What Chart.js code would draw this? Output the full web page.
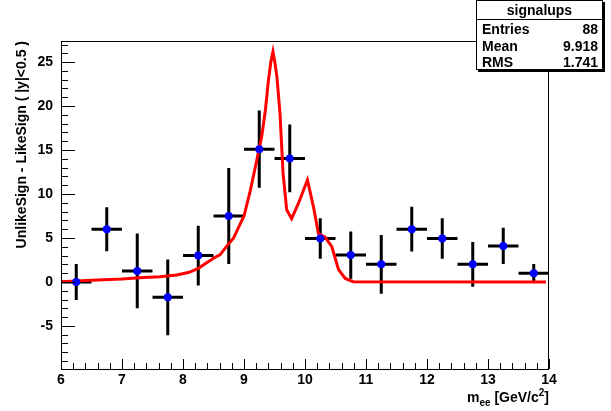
<!DOCTYPE html>
<html>
<head>
<meta charset="utf-8">
<script src="https://cdn.jsdelivr.net/npm/chart.js@4/dist/chart.umd.min.js"></script>
<style>
  html, body { margin: 0; padding: 0; background: #ffffff; }
  #wrap { position: relative; width: 611px; height: 411px; overflow: hidden; }
  #c { position: absolute; left: 0; top: 0; }
  #stats {
    position: absolute; left: 476px; top: 0px; width: 125px; height: 68px;
    border: 1px solid #000; background: #ffffff; box-shadow: 2px 2px 0 #000;
    font: bold 14px "Liberation Sans", Arial, sans-serif; color: #000;
  }
  #stats .ttl { position: absolute; left: 0; right: 0; top: 0; height: 18px; line-height: 18px;
    text-align: center; border-bottom: 1px solid #000; }
  #stats .row { position: absolute; left: 5px; right: 4px; height: 16px; line-height: 16px; }
  #stats .row .v { position: absolute; right: 0; top: 0; }
  #xtitle {
    position: absolute; right: 62px; top: 389px; line-height: 14px; white-space: nowrap;
    font: bold 14px "Liberation Sans", Arial, sans-serif; color: #000;
  }
  #xtitle .sub { font-size: 10px; position: relative; top: 4px; }
  #xtitle .sup { font-size: 10px; position: relative; top: -6px; }
</style>
</head>
<body>
<div id="wrap">
  <canvas id="c" width="611" height="411"></canvas>
  <div id="xtitle">m<span class="sub">ee</span> [GeV/c<span class="sup">2</span>]</div>
  <div id="stats"></div>
</div>
<script>
// ---- data ----
const binCenters = [6.25, 6.75, 7.25, 7.75, 8.25, 8.75, 9.25, 9.75, 10.25, 10.75, 11.25, 11.75, 12.25, 12.75, 13.25, 13.75];
const binHalfWidth = 0.25;
const values = [0, 6, 1.25, -1.75, 3, 7.5, 15.1, 14.05, 4.95, 3.05, 2, 6, 4.95, 2, 4.1, 1];
const errors = [2.05, 2.5, 4.25, 4.3, 3.4, 5.45, 4.4, 3.85, 2.3, 2.7, 3.35, 2.55, 2.3, 2.55, 2.05, 1.05];

const fitX = [6.0, 6.5, 7.0, 7.35, 7.62, 7.9, 8.1, 8.25, 8.5, 8.61, 8.72, 8.83, 8.93, 9.0, 9.1, 9.15, 9.22, 9.29, 9.35, 9.40, 9.44, 9.475, 9.51, 9.54, 9.59, 9.64, 9.70, 9.78, 9.89, 10.04, 10.14, 10.22, 10.33, 10.44, 10.55, 10.66, 10.79, 13.95];
const fitY = [0.03, 0.2, 0.33, 0.5, 0.6, 0.8, 1.1, 1.55, 2.7, 3.1, 4.1, 5.0, 6.5, 7.5, 10.3, 11.9, 14.2, 16.5, 19.5, 22.9, 25.0, 26.2, 24.8, 23.3, 19.2, 12.4, 8.2, 7.2, 8.9, 11.6, 8.5, 5.5, 5.1, 4.0, 1.4, 0.4, 0.03, 0.0];

const xTickLabels = [6, 7, 8, 9, 10, 11, 12, 13, 14];
const yTickLabels = [-5, 0, 5, 10, 15, 20, 25];

const statsTitle = "signalups";
const statsNames = ["Entries", "Mean", "RMS"];
const statsValues = ["88", "9.918", "1.741"];

// ---- stats box ----
(function () {
  const box = document.getElementById('stats');
  const t = document.createElement('div');
  t.className = 'ttl'; t.textContent = statsTitle; box.appendChild(t);
  statsNames.forEach((n, i) => {
    const r = document.createElement('div');
    r.className = 'row'; r.style.top = (20 + i * 16.5) + 'px';
    const a = document.createElement('span'); a.textContent = n;
    const b = document.createElement('span'); b.className = 'v'; b.textContent = statsValues[i];
    r.appendChild(a); r.appendChild(b); box.appendChild(r);
  });
})();

const FONT = "'Liberation Sans', Arial, sans-serif";

const errorBarPlugin = {
  id: 'errorBars',
  beforeDatasetsDraw(chart) {
    const ctx = chart.ctx, xs = chart.scales.x, ys = chart.scales.y;
    ctx.save();
    ctx.strokeStyle = '#000000';
    ctx.lineWidth = 3;
    ctx.lineCap = 'butt';
    binCenters.forEach((cx, i) => {
      const px = xs.getPixelForValue(cx);
      const py = ys.getPixelForValue(values[i]);
      const x0 = xs.getPixelForValue(cx - binHalfWidth);
      const x1 = xs.getPixelForValue(cx + binHalfWidth);
      const y0 = ys.getPixelForValue(values[i] - errors[i]);
      const y1 = ys.getPixelForValue(values[i] + errors[i]);
      ctx.beginPath();
      ctx.moveTo(x0, py); ctx.lineTo(x1, py);
      ctx.moveTo(px, y0); ctx.lineTo(px, y1);
      ctx.stroke();
    });
    ctx.restore();
  }
};

const framePlugin = {
  id: 'frameTicks',
  afterDraw(chart) {
    const ctx = chart.ctx, a = chart.chartArea, xs = chart.scales.x, ys = chart.scales.y;
    ctx.save();
    ctx.strokeStyle = '#000000';
    ctx.lineWidth = 1;
    ctx.strokeRect(Math.round(a.left) + 0.5, Math.round(a.top) + 0.5,
                   Math.round(a.right - a.left) - 1, Math.round(a.bottom - a.top));
    ctx.beginPath();
    for (let v = xs.min; v <= xs.max + 1e-9; v += 0.2) {
      const px = Math.round(xs.getPixelForValue(v)) + 0.5;
      const major = Math.abs(v - Math.round(v)) < 1e-6;
      const len = major ? 10 : 6;
      ctx.moveTo(px, a.bottom); ctx.lineTo(px, a.bottom - len);
    }
    for (let v = Math.ceil(ys.min); v <= ys.max; v += 1) {
      const py = Math.round(ys.getPixelForValue(v)) + 0.5;
      const major = (v % 5) === 0;
      const len = major ? 14 : 7;
      ctx.moveTo(a.left, py); ctx.lineTo(a.left + len, py);
    }
    ctx.stroke();
    ctx.restore();
  }
};

new Chart(document.getElementById('c'), {
  type: 'scatter',
  data: {
    datasets: [
      {
        label: 'fit',
        data: fitX.map((x, i) => ({ x: x, y: fitY[i] })),
        showLine: true,
        borderColor: '#ff0000',
        backgroundColor: '#ff0000',
        borderWidth: 3,
        pointRadius: 0,
        tension: 0,
        order: 2
      },
      {
        label: 'signalups',
        data: binCenters.map((x, i) => ({ x: x, y: values[i] })),
        pointRadius: 4,
        pointBackgroundColor: '#0000ff',
        pointBorderWidth: 0,
        pointBorderColor: '#0000ff',
        order: 1
      }
    ]
  },
  options: {
    responsive: false,
    animation: false,
    devicePixelRatio: 1,
    layout: { padding: { left: 0, top: 41, right: 62, bottom: 0 } },
    plugins: { legend: { display: false }, tooltip: { enabled: false } },
    scales: {
      x: {
        type: 'linear', min: 6, max: 14,
        grid: { display: false, drawTicks: false },
        border: { display: false },
        afterBuildTicks(scale) { scale.ticks = xTickLabels.map(v => ({ value: v })); },
        afterFit(scale) { scale.height = 42; },
        ticks: { padding: 3, color: '#000', maxRotation: 0, autoSkip: false,
                 font: { family: FONT, size: 14, weight: 'bold' } }
      },
      y: {
        type: 'linear', min: -9.9, max: 27.4,
        grid: { display: false, drawTicks: false },
        border: { display: false },
        afterBuildTicks(scale) { scale.ticks = yTickLabels.map(v => ({ value: v })); },
        afterFit(scale) { scale.width = 61; },
        ticks: { padding: 8, color: '#000', autoSkip: false,
                 font: { family: FONT, size: 14, weight: 'bold' } },
        title: {
          display: true, text: 'UnlikeSign - LikeSign ( |y|<0.5 )', align: 'end',
          color: '#000', padding: { top: 14, bottom: 0 },
          font: { family: FONT, size: 14, weight: 'bold' }
        }
      }
    }
  },
  plugins: [errorBarPlugin, framePlugin]
});
</script>
</body>
</html>
